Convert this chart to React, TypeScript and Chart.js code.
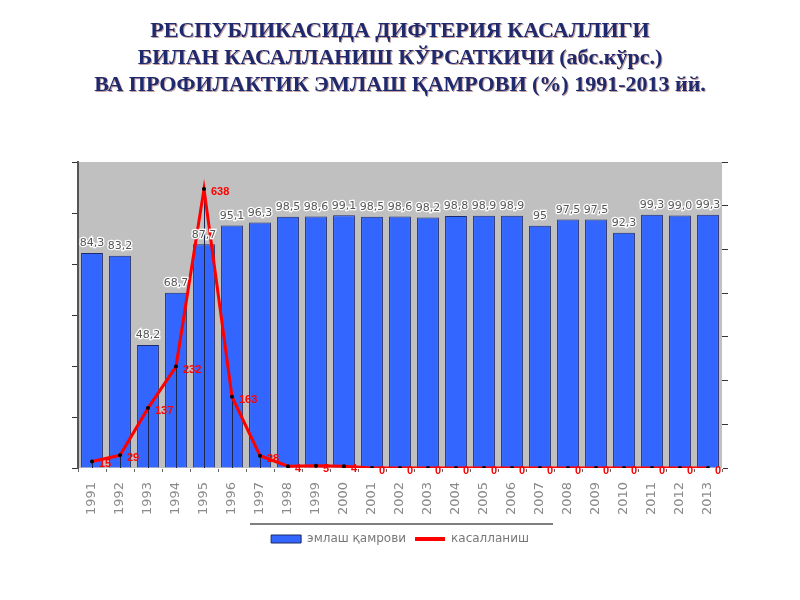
import React, { useEffect, useRef } from "react";
import { Chart, registerables } from "chart.js";

Chart.register(...registerables);

const titleLines = [
  "РЕСПУБЛИКАСИДА ДИФТЕРИЯ КАСАЛЛИГИ",
  "БИЛАН КАСАЛЛАНИШ КЎРСАТКИЧИ (абс.кўрс.)",
  "ВА ПРОФИЛАКТИК ЭМЛАШ ҚАМРОВИ (%) 1991-2013 йй.",
];

const years = [
  "1991", "1992", "1993", "1994", "1995", "1996", "1997", "1998", "1999", "2000",
  "2001", "2002", "2003", "2004", "2005", "2006", "2007", "2008", "2009", "2010",
  "2011", "2012", "2013",
];

const coverage = [
  84.3, 83.2, 48.2, 68.7, 87.7, 95.1, 96.3, 98.5, 98.6, 99.1,
  98.5, 98.6, 98.2, 98.8, 98.9, 98.9, 95, 97.5, 97.5, 92.3,
  99.3, 99.0, 99.3,
];

const coverageLabels = [
  "84,3", "83,2", "48,2", "68,7", "87,7", "95,1", "96,3", "98,5", "98,6", "99,1",
  "98,5", "98,6", "98,2", "98,8", "98,9", "98,9", "95", "97,5", "97,5", "92,3",
  "99,3", "99,0", "99,3",
];

const cases = [
  15, 29, 137, 232, 638, 163, 28, 4, 5, 4,
  0, 0, 0, 0, 0, 0, 0, 0, 0, 0,
  0, 0, 0,
];

const seriesNames = ["эмлаш қамрови", "касалланиш"];

const overlayPlugin = {
  id: "overlay",
  beforeDraw(chart: any) {
    const { ctx, chartArea } = chart;
    ctx.save();
    ctx.fillStyle = "#ffffff";
    ctx.fillRect(0, 0, chart.width, chart.height);
    ctx.fillStyle = "#c0c0c0";
    ctx.fillRect(chartArea.left, chartArea.top, chartArea.right - chartArea.left, chartArea.bottom - chartArea.top);
    ctx.restore();
  },
  afterDatasetDraw(chart: any, args: any) {
    if (args.index !== 0) return;
    const { ctx, chartArea } = chart;
    const meta = chart.getDatasetMeta(1);
    ctx.save();
    ctx.strokeStyle = "#1a2750";
    ctx.lineWidth = 1;
    meta.data.forEach((pt: any) => {
      ctx.beginPath();
      ctx.moveTo(Math.round(pt.x) + 0.5, pt.y);
      ctx.lineTo(Math.round(pt.x) + 0.5, chartArea.bottom);
      ctx.stroke();
    });
    ctx.restore();
  },
  afterDatasetsDraw(chart: any) {
    const { ctx } = chart;
    ctx.save();
    const barMeta = chart.getDatasetMeta(0);
    ctx.font = "11px 'DejaVu Sans'";
    ctx.textAlign = "center";
    ctx.textBaseline = "bottom";
    barMeta.data.forEach((bar: any, i: number) => {
      const txt = coverageLabels[i];
      ctx.lineWidth = 2.5;
      ctx.strokeStyle = "#ffffff";
      ctx.strokeText(txt, bar.x, bar.y - 4);
      ctx.fillStyle = "#555555";
      ctx.fillText(txt, bar.x, bar.y - 4);
    });
    const lineMeta = chart.getDatasetMeta(1);
    ctx.font = "bold 11px 'Liberation Sans'";
    ctx.textAlign = "left";
    ctx.textBaseline = "middle";
    ctx.fillStyle = "#ff0000";
    lineMeta.data.forEach((pt: any, i: number) => {
      ctx.fillText(String(cases[i]), pt.x + 7, pt.y + 3);
    });
    ctx.restore();
  },
  afterDraw(chart: any) {
    const { ctx } = chart;
    ctx.save();
    ctx.font = "bold 22px 'Liberation Serif'";
    ctx.textAlign = "center";
    ctx.textBaseline = "middle";
    const ys = [31, 58, 85];
    titleLines.forEach((line, i) => {
      ctx.fillStyle = "rgba(170,120,120,0.7)";
      ctx.fillText(line, 401, ys[i] + 1);
      ctx.fillStyle = "#1f2a6e";
      ctx.fillText(line, 400, ys[i]);
    });
    const lg = chart.legend;
    if (lg) {
      ctx.strokeStyle = "#555555";
      ctx.lineWidth = 1.5;
      ctx.beginPath();
      ctx.moveTo(250, lg.top);
      ctx.lineTo(553, lg.top);
      ctx.stroke();
    }
    ctx.restore();
  },
};

export default function App() {
  const ref = useRef<HTMLCanvasElement | null>(null);

  useEffect(() => {
    if (!ref.current) return;
    const chart = new Chart(ref.current, {
      type: "bar",
      data: {
        labels: years,
        datasets: [
          {
            type: "bar",
            label: seriesNames[0],
            data: coverage,
            yAxisID: "y",
            backgroundColor: "#3366ff",
            borderColor: "#1c2a66",
            borderWidth: 1,
            barPercentage: 0.78,
            categoryPercentage: 1,
            order: 2,
          },
          {
            type: "line",
            label: seriesNames[1],
            data: cases,
            yAxisID: "y1",
            borderColor: "#ff0000",
            backgroundColor: "#ff0000",
            borderWidth: 3,
            pointRadius: 2,
            pointBackgroundColor: "#000000",
            pointBorderWidth: 0,
            tension: 0,
            order: 1,
          } as any,
        ],
      },
      options: {
        animation: false,
        responsive: false,
        maintainAspectRatio: false,
        layout: { padding: { left: 72, right: 72, top: 162, bottom: 45 } },
        plugins: {
          title: { display: false },
          tooltip: { enabled: false },
          legend: {
            display: true,
            position: "bottom",
            labels: {
              usePointStyle: true,
              pointStyleWidth: 30,
              boxHeight: 8,
              padding: 9,
              color: "#777777",
              font: { size: 12, family: "'DejaVu Sans'" },
              sort: (a: any, b: any) => a.datasetIndex - b.datasetIndex,
              generateLabels(c: any) {
                const items = Chart.defaults.plugins.legend.labels.generateLabels(c);
                return items.map((it: any) => {
                  const isBar = it.datasetIndex === 0;
                  return {
                    ...it,
                    pointStyle: isBar ? "rect" : "line",
                    fillStyle: isBar ? "#3366ff" : "#ff0000",
                    lineWidth: isBar ? 1 : 4,
                    strokeStyle: isBar ? "#1c2a66" : "#ff0000",
                  };
                });
              },
            },
          },
        },
        scales: {
          x: {
            offset: true,
            grid: {
              display: true,
              drawOnChartArea: false,
              drawTicks: true,
              tickLength: 4,
              offset: true,
              color: "#666666",
            },
            border: { display: true, color: "#ffffff", width: 1 },
            ticks: {
              color: "#8a8a8a",
              font: { size: 13, family: "'DejaVu Sans'" },
              minRotation: 90,
              maxRotation: 90,
              autoSkip: false,
              padding: 10,
            },
            afterFit(s: any) {
              s.height = 56;
            },
          },
          y: {
            position: "left",
            min: 0,
            max: 120,
            ticks: { display: false, stepSize: 20 },
            grid: { drawOnChartArea: false, drawTicks: true, tickLength: 6, color: "#333333" },
            border: { display: true, color: "#555555", width: 2 },
            afterFit(s: any) {
              s.width = 6;
            },
          },
          y1: {
            position: "right",
            min: 0,
            max: 700,
            ticks: { display: false, stepSize: 100 },
            grid: { drawOnChartArea: false, drawTicks: true, tickLength: 6, color: "#333333" },
            border: { display: false },
            afterFit(s: any) {
              s.width = 6;
            },
          },
        },
      },
      plugins: [overlayPlugin],
    });
    return () => chart.destroy();
  }, []);

  return (
    <div style={{ position: "fixed", left: 0, top: 0, width: 800, height: 600, background: "#fff" }}>
      <canvas ref={ref} width={800} height={600} style={{ width: 800, height: 600 }} />
    </div>
  );
}
